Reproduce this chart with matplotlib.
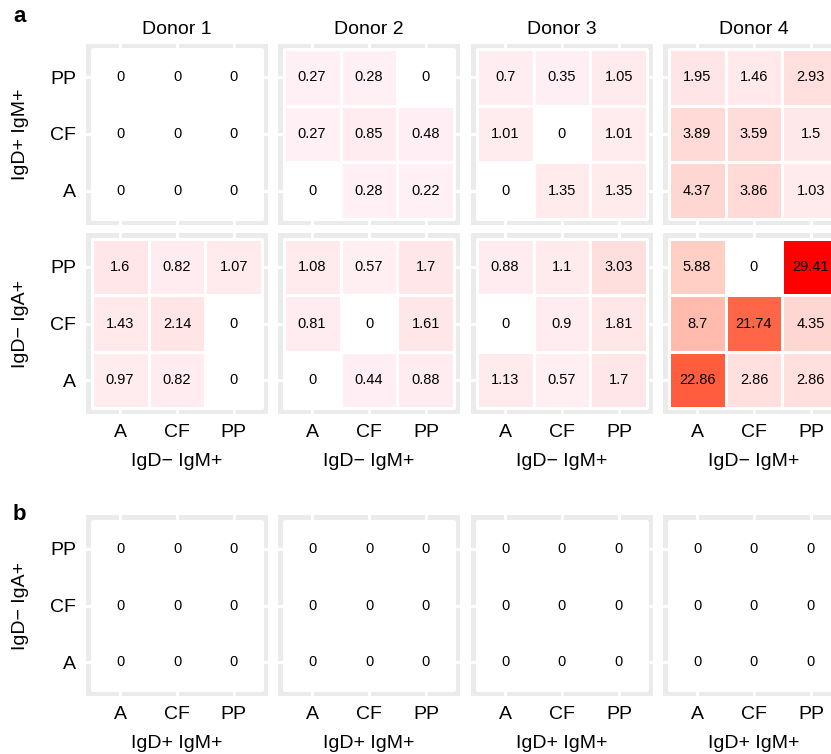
import numpy as np
import matplotlib
matplotlib.use("Agg")
import matplotlib.pyplot as plt
from matplotlib.colors import ListedColormap

plt.rcParams['font.family'] = ['Liberation Sans', 'DejaVu Sans']

categories = ["A", "CF", "PP"]
donors = ["Donor 1", "Donor 2", "Donor 3", "Donor 4"]

# each donor: rows top to bottom = PP, CF, A ; columns = A, CF, PP
igdpos_igmpos = [
    [[0, 0, 0], [0, 0, 0], [0, 0, 0]],
    [[0.27, 0.28, 0], [0.27, 0.85, 0.48], [0, 0.28, 0.22]],
    [[0.7, 0.35, 1.05], [1.01, 0, 1.01], [0, 1.35, 1.35]],
    [[1.95, 1.46, 2.93], [3.89, 3.59, 1.5], [4.37, 3.86, 1.03]],
]
igdneg_igapos = [
    [[1.6, 0.82, 1.07], [1.43, 2.14, 0], [0.97, 0.82, 0]],
    [[1.08, 0.57, 1.7], [0.81, 0, 1.61], [0, 0.44, 0.88]],
    [[0.88, 1.1, 3.03], [0, 0.9, 1.81], [1.13, 0.57, 1.7]],
    [[5.88, 0, 29.41], [8.7, 21.74, 4.35], [22.86, 2.86, 2.86]],
]
panel_b = [
    [[0, 0, 0], [0, 0, 0], [0, 0, 0]],
    [[0, 0, 0], [0, 0, 0], [0, 0, 0]],
    [[0, 0, 0], [0, 0, 0], [0, 0, 0]],
    [[0, 0, 0], [0, 0, 0], [0, 0, 0]],
]

row_data = [igdpos_igmpos, igdneg_igapos, panel_b]
row_ylabels = ["IgD+ IgM+", "IgD\u2212 IgA+", "IgD\u2212 IgA+"]
row_xlabels = [None, "IgD\u2212 IgM+", "IgD+ IgM+"]


# light pink -> red gradient interpolated in Lab (like ggplot); zeros drawn white
def srgb_to_lab(c):
    c = np.asarray(c, float)
    lin = np.where(c <= 0.04045, c / 12.92, ((c + 0.055) / 1.055) ** 2.4)
    M = np.array([[0.4124, 0.3576, 0.1805],
                  [0.2126, 0.7152, 0.0722],
                  [0.0193, 0.1192, 0.9505]])
    xyz = M @ lin / np.array([0.95047, 1.0, 1.08883])
    f = np.where(xyz > 0.008856, np.cbrt(xyz), 7.787 * xyz + 16 / 116)
    return np.array([116 * f[1] - 16, 500 * (f[0] - f[1]), 200 * (f[1] - f[2])])


def lab_to_srgb(lab):
    L, a, b = lab
    fy = (L + 16) / 116
    fx = fy + a / 500
    fz = fy - b / 200
    f = np.array([fx, fy, fz])
    xyz = np.where(f ** 3 > 0.008856, f ** 3, (f - 16 / 116) / 7.787)
    xyz = xyz * np.array([0.95047, 1.0, 1.08883])
    Minv = np.array([[3.2406, -1.5372, -0.4986],
                     [-0.9689, 1.8758, 0.0415],
                     [0.0557, -0.2040, 1.0570]])
    lin = np.clip(Minv @ xyz, 0, 1)
    c = np.where(lin <= 0.0031308, 12.92 * lin, 1.055 * lin ** (1 / 2.4) - 0.055)
    return np.clip(c, 0, 1)


lo = srgb_to_lab([1, 0.94, 0.96])
hi = srgb_to_lab([1, 0, 0])
cmap = ListedColormap([lab_to_srgb(lo + t * (hi - lo)) for t in np.linspace(0, 1, 256)])
cmap.set_bad('white')
all_vals = np.array(row_data).ravel()
vmin = all_vals[all_vals > 0].min()
vmax = all_vals.max()

W, H = 831, 754
fig = plt.figure(figsize=(W / 100, H / 100), dpi=100)


def box(left, top, w, h):
    return [left / W, 1 - (top + h) / H, w / W, h / H]


cols_left = [86, 278, 471, 663]
rows_top = [43.5, 233, 515]
pw, ph = 182, 181
edges = np.array([0.5, 1.5, 2.5, 3.5])

for r, data in enumerate(row_data):
    for c, name in enumerate(donors):
        ax = fig.add_axes(box(cols_left[c], rows_top[r], pw, ph))
        ax.set_facecolor('#EBEBEB')
        vals = np.array(data[c], float)[::-1]  # bottom row first (A)
        ax.pcolormesh(edges, edges, np.ma.masked_equal(vals, 0), cmap=cmap,
                      vmin=vmin, vmax=vmax, edgecolors='white', linewidth=0.8)
        for i in range(3):
            for j in range(3):
                ax.text(j + 1, i + 1, f"{vals[i, j]:g}", ha='center', va='center',
                        fontsize=10.5, color='black')
        ax.set_xlim(0.4, 3.6)
        ax.set_ylim(0.4, 3.6)
        ax.set_xticks([1, 2, 3])
        ax.set_yticks([1, 2, 3])
        ax.set_axisbelow(True)
        ax.grid(color='white', linewidth=2.2)
        for s in ax.spines.values():
            s.set_visible(False)
        ax.tick_params(length=0, pad=7, labelsize=14, labelcolor='black')
        if c == 0:
            ax.set_yticklabels(categories)
        else:
            ax.set_yticklabels([])
        if r == 0:
            ax.set_xticklabels([])
            ax.set_title(name, fontsize=14, pad=7)
        else:
            ax.set_xticklabels(categories)
            fig.text((cols_left[c] + pw / 2) / W, 1 - (rows_top[r] + ph + 48) / H,
                     row_xlabels[r], ha='center', va='center', fontsize=14)
    fig.text(21 / W, 1 - (rows_top[r] + ph / 2) / H, row_ylabels[r],
             rotation=90, ha='center', va='center', fontsize=14)

fig.text(13 / W, 1 - 17 / H, "a", fontsize=16, fontweight='bold', ha='left', va='center')
fig.text(13 / W, 1 - 515 / H, "b", fontsize=16, fontweight='bold', ha='left', va='center')

fig.savefig("out.png", dpi=100)
